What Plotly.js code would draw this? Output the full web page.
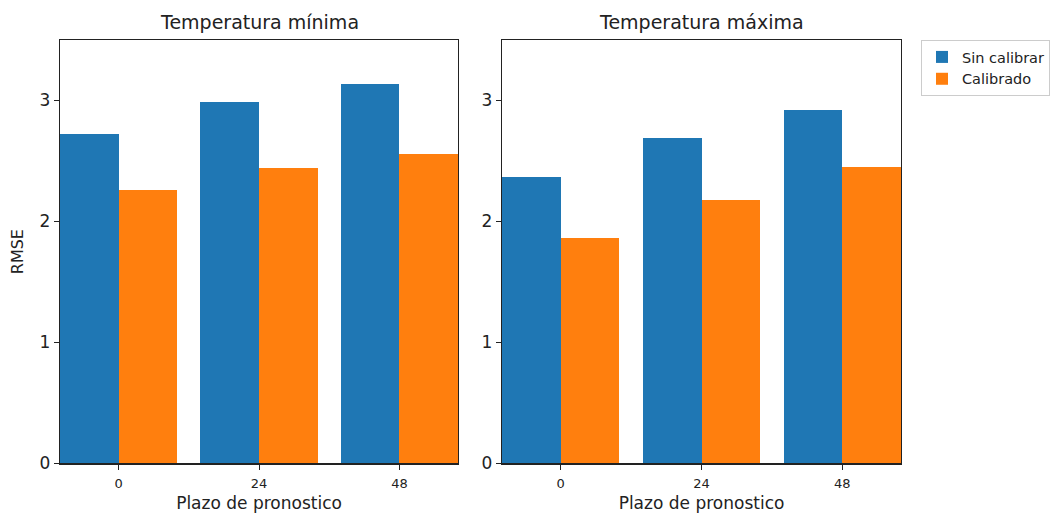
<!DOCTYPE html>
<html><head><meta charset="utf-8">
<script src="https://cdn.plot.ly/plotly-3.0.1.min.js"></script>
<style>body{margin:0;padding:0;background:#fff}#chart{width:1055px;height:513px}</style>
</head><body><div id="chart"></div>
<script>
var categories = [0, 1, 2];
var tickLabels = ['0', '24', '48'];
var seriesNames = ['Sin calibrar', 'Calibrado'];
var minSinCalibrar = [2.72, 2.99, 3.14];
var minCalibrado = [2.26, 2.44, 2.56];
var maxSinCalibrar = [2.37, 2.69, 2.92];
var maxCalibrado = [1.86, 2.18, 2.45];
var titles = ['Temperatura mínima', 'Temperatura máxima'];

var blue = '#1f77b4', orange = '#ff7f0e';
var W = 0.417;
var font = 'DejaVu Sans, sans-serif';

function bar(y, name, color, off, xa, ya, show) {
  return {type: 'bar', x: categories, y: y, name: name, width: W, offset: off,
    marker: {color: color, line: {width: 0}}, xaxis: xa, yaxis: ya, showlegend: show, legendgroup: name};
}
var data = [
  bar(minSinCalibrar, seriesNames[0], blue, -W, 'x', 'y', true),
  bar(minCalibrado, seriesNames[1], orange, 0, 'x', 'y', true),
  bar(maxSinCalibrar, seriesNames[0], blue, -W, 'x2', 'y2', false),
  bar(maxCalibrado, seriesNames[1], orange, 0, 'x2', 'y2', false)
];
function xax(dom, anchor) {
  return {domain: dom, anchor: anchor, range: [-W, 2 + W], tickvals: categories, ticktext: tickLabels,
    showline: true, mirror: true, linecolor: '#222', linewidth: 1.3, ticks: 'outside', ticklen: 5, tickcolor: '#222',
    ticklabelstandoff: 3,
    showgrid: false, zeroline: false, tickfont: {family: font, size: 13, color: '#222'},
    title: {text: 'Plazo de pronostico', font: {family: font, size: 17, color: '#222'}, standoff: 15}};
}
function yax(dom, anchor, withTitle) {
  var a = {domain: dom, anchor: anchor, range: [0, 3.5], tickvals: [0, 1, 2, 3],
    showline: true, mirror: true, linecolor: '#222', linewidth: 1.3, ticks: 'outside', ticklen: 5, tickcolor: '#222',
    showgrid: false, zeroline: false, tickfont: {family: font, size: 17, color: '#222'}};
  if (withTitle) a.title = {text: 'RMSE', font: {family: font, size: 16, color: '#222'}, standoff: 12};
  return a;
}
var yd = [1 - 463.3 / 513, 1 - 40 / 513];
var layout = {
  width: 1055, height: 513, margin: {l: 0, r: 0, t: 0, b: 0},
  paper_bgcolor: '#fff', plot_bgcolor: '#fff', barmode: 'overlay', bargap: 0,
  xaxis: xax([60 / 1055, 458 / 1055], 'y'),
  yaxis: yax(yd, 'x', true),
  xaxis2: xax([502 / 1055, 901 / 1055], 'y2'),
  yaxis2: yax(yd, 'x2', false),
  legend: {x: 921 / 1055, y: 1 - 40 / 513, xanchor: 'left', yanchor: 'top', bgcolor: '#fff',
    bordercolor: '#ccc', borderwidth: 1, font: {family: font, size: 14.5, color: '#222'},
    itemwidth: 30, tracegroupgap: 0},
  annotations: [
    {text: titles[0], x: (60 + 458) / 2 / 1055, y: 1 - 22 / 513, xref: 'paper', yref: 'paper', showarrow: false,
      font: {family: font, size: 19, color: '#222'}, xanchor: 'center', yanchor: 'middle'},
    {text: titles[1], x: (502 + 901) / 2 / 1055, y: 1 - 22 / 513, xref: 'paper', yref: 'paper', showarrow: false,
      font: {family: font, size: 19, color: '#222'}, xanchor: 'center', yanchor: 'middle'}
  ]
};
Plotly.newPlot('chart', data, layout, {displayModeBar: false, staticPlot: true});
</script></body></html>
